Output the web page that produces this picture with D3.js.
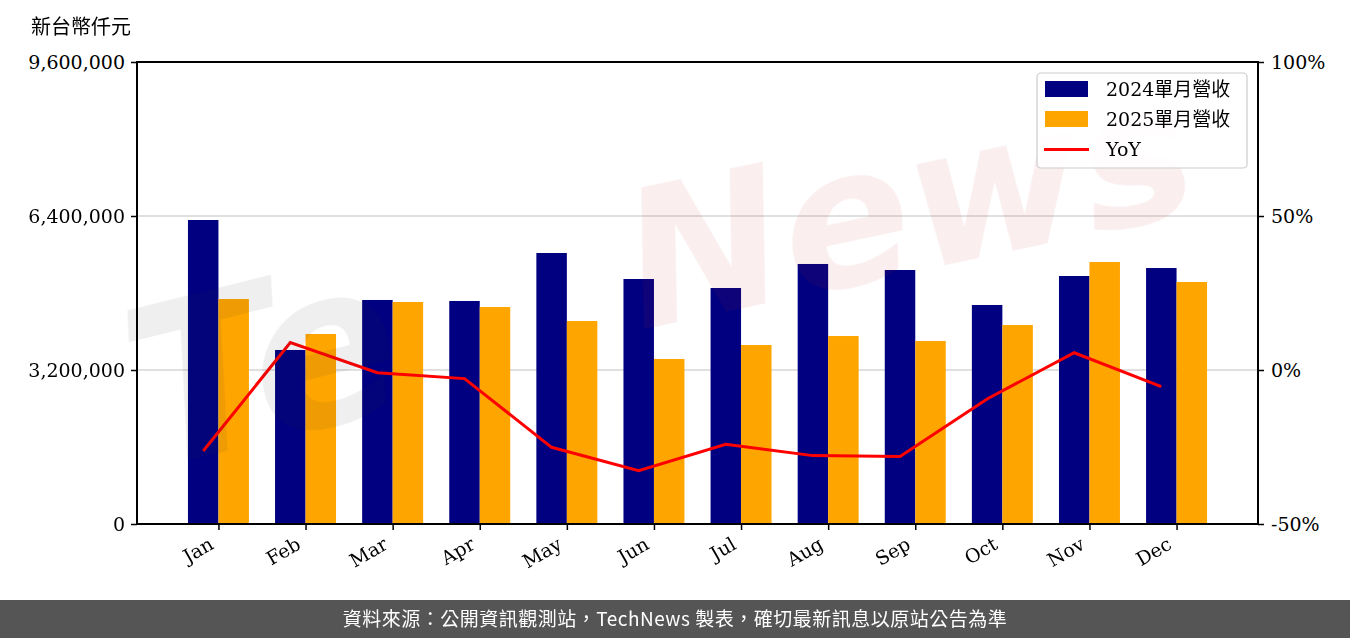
<!DOCTYPE html>
<html><head><meta charset="utf-8">
<script src="https://cdn.jsdelivr.net/npm/d3@7"></script>
<style>
body{margin:0;background:#fff;}
svg{display:block;}
</style></head>
<body><svg id="c" width="1350" height="638"></svg>
<script>
const months = ["Jan","Feb","Mar","Apr","May","Jun","Jul","Aug","Sep","Oct","Nov","Dec"];
const rev2024 = [6317000,3616000,4655000,4634000,5631000,5091000,4904000,5403000,5278000,4551000,5153000,5319000];
const rev2025 = [4675000,3948000,4613000,4509000,4218000,3429000,3719000,3906000,3803000,4135000,5444000,5029000];
const yoy = [-26.3,8.9,-0.9,-2.8,-25.1,-32.7,-24.1,-27.8,-28.1,-9.4,5.6,-5.4];
const leftTicks = [0,3200000,6400000,9600000];
const rightTicks = [-50,0,50,100];
const legendLabels = ["2024單月營收","2025單月營收","YoY"];
const yTitle = "新台幣仟元";
const footerText = "資料來源：公開資訊觀測站，TechNews 製表，確切最新訊息以原站公告為準";

const svg = d3.select("#c");
const L=137, R=1258, T=62, B=524;
const serif = "'DejaVu Serif','Noto Sans CJK TC',serif";
const barW = 0.35;

const x = d3.scaleLinear().domain([-0.935, 11.935]).range([L,R]);
const y = d3.scaleLinear().domain([0,9600000]).range([B,T]);
const y2 = d3.scaleLinear().domain([-50,100]).range([B,T]);

// gridlines
svg.append("g").selectAll("line").data(leftTicks.filter(d=>d>0 && d<9600000)).join("line")
  .attr("x1",L).attr("x2",R).attr("y1",d=>y(d)).attr("y2",d=>y(d))
  .attr("stroke","#d6d6d6").attr("stroke-width",1.5);

// bars
const g = svg.append("g");
g.selectAll("rect.a").data(rev2024).join("rect").attr("class","a")
  .attr("x",(d,i)=>x(i-barW)).attr("width",(d,i)=>x(i)-x(i-barW))
  .attr("y",d=>y(d)).attr("height",d=>B-y(d)).attr("fill","#000080");
g.selectAll("rect.b").data(rev2025).join("rect").attr("class","b")
  .attr("x",(d,i)=>x(i)).attr("width",(d,i)=>x(i+barW)-x(i))
  .attr("y",d=>y(d)).attr("height",d=>B-y(d)).attr("fill","#FFA500");

// line
const line = d3.line().x((d,i)=>x(i-barW/2)).y(d=>y2(d));
svg.append("path").datum(yoy).attr("d",line).attr("fill","none")
  .attr("stroke","#FF0000").attr("stroke-width",3).attr("stroke-linejoin","miter");

// watermark
const wm = svg.append("g").attr("opacity",0.08)
  .style("font-family","'DejaVu Sans',sans-serif").style("font-style","italic").style("font-weight","bold");
wm.append("text").attr("transform","translate(150,470) rotate(-14)").attr("font-size",220).attr("fill","#333")
  .text("Te");
wm.append("text").attr("transform","translate(640,330) rotate(-12)").attr("font-size",190).attr("fill","#c0303a")
  .text("News");

// axes
const axL = d3.axisLeft(y).tickValues(leftTicks).tickSize(6).tickPadding(6).tickFormat(d3.format(","));
const axR = d3.axisRight(y2).tickValues(rightTicks).tickSize(6).tickPadding(7).tickFormat(d=>d+"%");
const axB = d3.axisBottom(x).tickValues(d3.range(12)).tickSize(6).tickFormat(i=>months[i]);

const gl = svg.append("g").attr("transform",`translate(${L},0)`).call(axL);
const gr = svg.append("g").attr("transform",`translate(${R},0)`).call(axR);
const gb = svg.append("g").attr("transform",`translate(0,${B})`).call(axB);
[gl,gr,gb].forEach(a=>{
  a.select(".domain").remove();
  a.selectAll(".tick line").attr("stroke","#000").attr("stroke-width",1.5);
  a.selectAll("text").style("font-family",serif).style("font-size","19px").style("font-weight","300").attr("fill","#000");
});
gb.selectAll(".tick text").attr("text-anchor","end").attr("dy",0).attr("y",0)
  .attr("transform","translate(-4,24) rotate(-30)");

// frame
svg.append("rect").attr("x",L).attr("y",T).attr("width",R-L).attr("height",B-T)
  .attr("fill","none").attr("stroke","#000").attr("stroke-width",2);

// y title
svg.append("text").attr("x",31).attr("y",34).text(yTitle)
  .style("font-family","'Noto Sans CJK TC','Noto Sans CJK SC',serif").style("font-size","20px").attr("fill","#000");

// legend
const lg = svg.append("g");
lg.append("rect").attr("x",1037).attr("y",73).attr("width",210).attr("height",95).attr("rx",4)
  .attr("fill","#fff").attr("fill-opacity",0.85).attr("stroke","#cccccc").attr("stroke-width",1.2);
const colors = ["#000080","#FFA500","#FF0000"];
legendLabels.forEach((lab,i)=>{
  const cy = 89 + i*30;
  if(i<2) lg.append("rect").attr("x",1045).attr("y",cy-8).attr("width",43).attr("height",16).attr("fill",colors[i]);
  else lg.append("line").attr("x1",1044).attr("x2",1089).attr("y1",cy+0.5).attr("y2",cy+0.5).attr("stroke",colors[i]).attr("stroke-width",3);
  lg.append("text").attr("x",1106).attr("y",cy+7).text(lab)
    .style("font-family",serif).style("font-size","19px").attr("fill","#000");
});

// footer
svg.append("rect").attr("x",0).attr("y",600).attr("width",1350).attr("height",38).attr("fill","#555555");
svg.append("text").attr("x",675).attr("y",626).attr("text-anchor","middle").text(footerText)
  .style("font-family","'Noto Sans CJK TC','Noto Sans CJK SC',sans-serif").style("font-size","19px")
  .style("letter-spacing","0.5px").attr("fill","#fff");
</script></body></html>
